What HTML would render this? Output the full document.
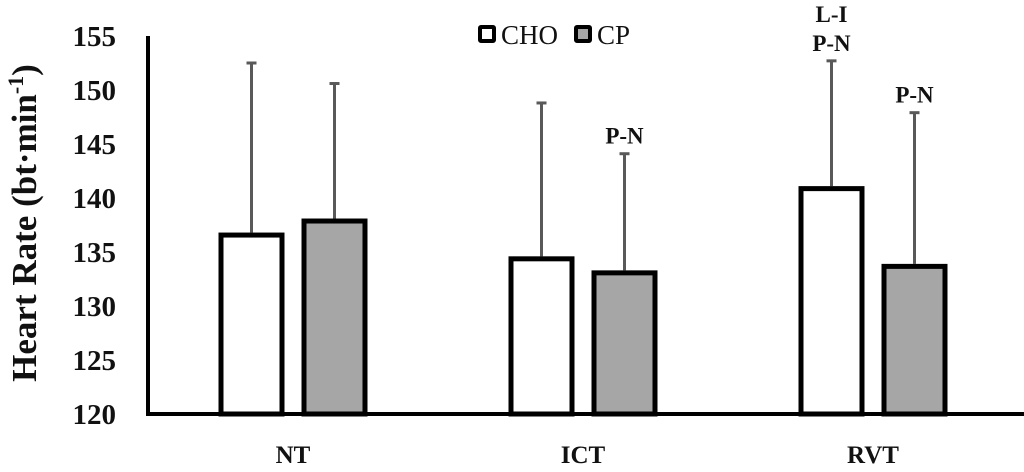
<!DOCTYPE html>
<html><head><meta charset="utf-8"><style>
html,body{margin:0;padding:0;background:#fff;}
svg{display:block;font-family:"Liberation Serif",serif;}
</style></head><body>
<svg id="chart" width="1024" height="472" viewBox="0 0 1024 472">
<g id="axes"></g><g id="bars"></g>
</svg>
<script>
const categories=["NT","ICT","RVT"];
const choValues=[136.8,134.6,141.1];
const cpValues=[138.1,133.3,133.9];
const choErr=[15.7,14.2,11.6];
const cpErr=[12.5,10.8,14.0];
const yTicks=[120,125,130,135,140,145,150,155];
const choNotes=[[],[],["L-I","P-N"]];
const cpNotes=[[],["P-N"],["P-N"]];

const NS="http://www.w3.org/2000/svg";
const X0=148,X1=1018,Y0=414,Y1=36,YMIN=120,YMAX=155;
const y=v=>Y0-(v-YMIN)/(YMAX-YMIN)*(Y0-Y1);
const gw=(X1-X0)/categories.length;
const xc=i=>X0+gw*(i+0.5);
function mk(tag,attrs,parent,text){const e=document.createElementNS(NS,tag);for(const k in attrs)e.setAttribute(k,attrs[k]);if(text!==undefined)e.textContent=text;parent.appendChild(e);return e;}
const axes=document.getElementById('axes'),bars=document.getElementById('bars');

yTicks.forEach(t=>{const el=mk('text',{x:116,y:y(t)+10,'text-anchor':'end','font-size':'29','font-weight':'bold',fill:'#111'},axes,String(t));

});
const yt=mk('text',{x:0,y:0,transform:'translate(36,223) rotate(-90)','text-anchor':'middle','font-size':'35','font-weight':'bold',fill:'#111'},axes);


yt.innerHTML='Heart Rate (bt·min<tspan dy="-13" font-size="22">-1</tspan><tspan dy="13">)</tspan>';

const bw=66,gap=17;
categories.forEach((c,i)=>{
  const lbl=mk('text',{x:xc(i),y:463,'text-anchor':'middle','font-size':'25','font-weight':'bold',fill:'#111'},axes,c);
  
  
  [[choValues,choErr,'#fff',choNotes,-1,'bar-cho'],[cpValues,cpErr,'#a6a6a6',cpNotes,1,'bar-cp']].forEach(([vals,errs,fill,notes,side,name])=>{
    const cx=xc(i)+side*(gap/2+bw/2);
    const top=y(vals[i]);
    const et=y(vals[i]+errs[i]);
    const eb=mk('line',{x1:cx,x2:cx,y1:top,y2:et,stroke:'#595959','stroke-width':3},bars);
    
    
    const cap=mk('line',{x1:cx-5,x2:cx+5,y1:et,y2:et,stroke:'#595959','stroke-width':3},bars);
    
    
    const r=mk('rect',{x:cx-bw/2+2.5,y:top+2.5,width:bw-5,height:Y0-top-2.5,fill:fill,stroke:'#000','stroke-width':5},bars);
    
    
    const n=notes[i];
    n.forEach((s,k)=>{const t=mk('text',{x:cx,y:et-10-(n.length-1-k)*29,'text-anchor':'middle','font-size':'23','font-weight':'bold',fill:'#111'},bars,s);
      
      });
  });
});
const ax=mk('path',{d:`M${X0},${Y1} V${Y0} H1024`,fill:'none',stroke:'#000','stroke-width':4},axes);



const lg=mk('g',{},axes);


[['#fff','CHO',478,501],['#a6a6a6','CP',574,597]].forEach(([f,l,sx,tx])=>{
  const s=mk('rect',{x:sx+2,y:27,width:14,height:14,fill:f,stroke:'#000','stroke-width':4,rx:1},lg);
  
  
  const t=mk('text',{x:tx,y:44,'font-size':'27',fill:'#111'},lg,l);
  
  
});
</script>
</body></html>
